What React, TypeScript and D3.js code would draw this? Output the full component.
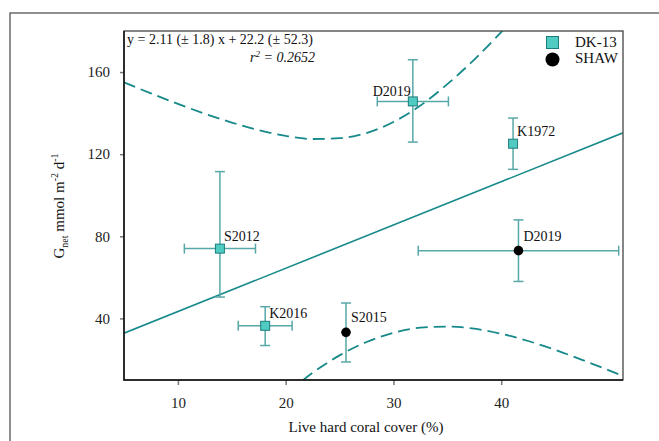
import React, { useEffect, useRef } from 'react';
import * as d3 from 'd3';

// DK-13 sites
const dkLabels = ['S2012', 'K2016', 'D2019', 'K1972'];
const dkCover = [13.9, 18.1, 31.8, 41.1];
const dkCoverErr = [3.3, 2.5, 3.3, 0];
const dkGnet = [74, 36.4, 145.7, 125.1];
const dkGnetErrHi = [37.5, 9.3, 20.3, 12.5];
const dkGnetErrLo = [23.6, 9.6, 19.8, 12.5];

// SHAW sites
const shawLabels = ['D2019', 'S2015'];
const shawCover = [41.6, 25.6];
const shawCoverErr = [9.3, 0];
const shawGnet = [73, 33.2];
const shawGnetErrHi = [15, 14.3];
const shawGnetErrLo = [15, 14.4];

// regression line and 95% band
const fitCover = [5, 51.3];
const fitGnet = [32.8, 130.4];
const bandCover = [5, 7.5, 10, 12.5, 15, 17.5, 20, 22.5, 25, 27.5, 30, 32.5, 35, 37.5, 40, 42.5, 45, 47.5, 50, 51.3];
const bandUpper = [155, 149.6, 144.5, 139.7, 135.4, 131.7, 128.9, 127.4, 127.8, 130.3, 135.7, 143.7, 154.1, 166.1, 179.5, 193.8, 208.7, 224, 239.7, 247.9];
const bandLower = [-88, -70, -52, -36, -21, -8, 3, 13.5, 22, 28.5, 33, 35.5, 36, 35, 32.5, 29, 24.7, 19.8, 14.7, 11.9];

const xTicks = [10, 20, 30, 40];
const yTicks = [40, 80, 120, 160];

const TEAL = '#17898a';
const BAR = '#58a8a8';
const FONT = '"Liberation Serif", "Times New Roman", serif';

const App = () => {
  const chartRef = useRef<SVGSVGElement>(null);

  useEffect(() => {
    const root = d3.select(chartRef.current);
    root.selectAll('*').remove();

    const margin = { top: 31, right: 36, bottom: 61, left: 124 };
    const width = 659 - margin.left - margin.right;
    const height = 441 - margin.top - margin.bottom;

    // outer frame
    root
      .append('rect')
      .attr('x', 10)
      .attr('y', 13)
      .attr('width', 700)
      .attr('height', 500)
      .attr('fill', 'none')
      .attr('stroke', '#555')
      .attr('stroke-width', 1.3);

    const svg = root.append('g').attr('transform', `translate(${margin.left},${margin.top})`);

    const x = d3.scaleLinear().domain([5, 51.3]).range([0, width]);
    const y = d3.scaleLinear().domain([10, 180]).range([height, 0]);

    svg
      .append('clipPath')
      .attr('id', 'plotClip')
      .append('rect')
      .attr('width', width)
      .attr('height', height);

    // axes
    const xAxis = svg
      .append('g')
      .attr('transform', `translate(0,${height})`)
      .call(d3.axisBottom(x).tickValues(xTicks).tickSize(5).tickPadding(12).tickSizeOuter(0));
    const yAxis = svg
      .append('g')
      .call(d3.axisLeft(y).tickValues(yTicks).tickSize(4).tickPadding(10).tickSizeOuter(0));
    [xAxis, yAxis].forEach((a) => {
      a.select('.domain').remove();
      a.selectAll('line').attr('stroke', '#777').attr('stroke-width', 1.5);
      a.selectAll('text').attr('font-family', FONT).attr('font-size', 15).attr('fill', '#222');
    });

    const plot = svg.append('g').attr('clip-path', 'url(#plotClip)');

    // confidence band
    const bandLine = d3
      .line<number>()
      .x((d, i) => x(bandCover[i]))
      .y((d) => y(d))
      .curve(d3.curveMonotoneX);
    [bandUpper, bandLower].forEach((b) => {
      plot
        .append('path')
        .attr('d', bandLine(b))
        .attr('fill', 'none')
        .attr('stroke', TEAL)
        .attr('stroke-width', 1.8)
        .attr('stroke-dasharray', '12,6');
    });

    // regression line
    plot
      .append('line')
      .attr('x1', x(fitCover[0]))
      .attr('y1', y(fitGnet[0]))
      .attr('x2', x(fitCover[1]))
      .attr('y2', y(fitGnet[1]))
      .attr('stroke', TEAL)
      .attr('stroke-width', 1.6);

    const cap = 5;
    const drawErrors = (cover, coverErr, gnet, hi, lo) => {
      cover.forEach((cx, i) => {
        const g = plot.append('g').attr('stroke', BAR).attr('stroke-width', 1.5);
        const px = x(cx);
        const py = y(gnet[i]);
        if (coverErr[i] > 0) {
          const x0 = x(cx - coverErr[i]);
          const x1 = x(cx + coverErr[i]);
          g.append('line').attr('x1', x0).attr('x2', x1).attr('y1', py).attr('y2', py);
          g.append('line').attr('x1', x0).attr('x2', x0).attr('y1', py - cap).attr('y2', py + cap);
          g.append('line').attr('x1', x1).attr('x2', x1).attr('y1', py - cap).attr('y2', py + cap);
        }
        const y0 = y(gnet[i] + hi[i]);
        const y1 = y(gnet[i] - lo[i]);
        g.append('line').attr('x1', px).attr('x2', px).attr('y1', y0).attr('y2', y1);
        g.append('line').attr('x1', px - cap).attr('x2', px + cap).attr('y1', y0).attr('y2', y0);
        g.append('line').attr('x1', px - cap).attr('x2', px + cap).attr('y1', y1).attr('y2', y1);
      });
    };
    drawErrors(dkCover, dkCoverErr, dkGnet, dkGnetErrHi, dkGnetErrLo);
    drawErrors(shawCover, shawCoverErr, shawGnet, shawGnetErrHi, shawGnetErrLo);

    // markers
    const sq = 9;
    dkCover.forEach((cx, i) => {
      svg
        .append('rect')
        .attr('x', x(cx) - sq / 2)
        .attr('y', y(dkGnet[i]) - sq / 2)
        .attr('width', sq)
        .attr('height', sq)
        .attr('fill', '#4fcbc2')
        .attr('stroke', '#1d7d7d')
        .attr('stroke-width', 1);
    });
    shawCover.forEach((cx, i) => {
      svg.append('circle').attr('cx', x(cx)).attr('cy', y(shawGnet[i])).attr('r', 4.8).attr('fill', '#000');
    });

    // point labels
    const label = (txt, cx, cy, dx, dy, anchor = 'start') =>
      svg
        .append('text')
        .attr('x', x(cx) + dx)
        .attr('y', y(cy) + dy)
        .attr('text-anchor', anchor)
        .attr('font-family', FONT)
        .attr('font-size', 14)
        .attr('fill', '#111')
        .text(txt);
    dkLabels.forEach((t, i) => {
      if (t === 'D2019') label(t, dkCover[i], dkGnet[i], -2, -5, 'end');
      else label(t, dkCover[i], dkGnet[i], 4, -8);
    });
    shawLabels.forEach((t, i) => label(t, shawCover[i], shawGnet[i], 5, -10));

    // plot frame
    svg
      .append('rect')
      .attr('width', width)
      .attr('height', height)
      .attr('fill', 'none')
      .attr('stroke', '#444')
      .attr('stroke-width', 1.3);
    svg
      .append('path')
      .attr('d', `M0,0V${height}H${width}`)
      .attr('fill', 'none')
      .attr('stroke', '#111')
      .attr('stroke-width', 1.5);

    // equation
    svg
      .append('text')
      .attr('x', 3)
      .attr('y', 13)
      .attr('font-family', FONT)
      .attr('font-size', 14)
      .attr('fill', '#111')
      .text('y = 2.11 (± 1.8) x + 22.2 (± 52.3)');
    const r2 = svg
      .append('text')
      .attr('x', 191)
      .attr('y', 31)
      .attr('text-anchor', 'end')
      .attr('font-family', FONT)
      .attr('font-size', 14)
      .attr('font-style', 'italic')
      .attr('fill', '#111');
    r2.append('tspan').text('r');
    r2.append('tspan').attr('dy', -5).attr('font-size', 9).text('2');
    r2.append('tspan').attr('dy', 5).text(' = 0.2652');

    // legend
    svg
      .append('rect')
      .attr('x', 422.5)
      .attr('y', 5.5)
      .attr('width', 12)
      .attr('height', 12)
      .attr('fill', '#4fcbc2')
      .attr('stroke', '#1d7d7d');
    svg.append('circle').attr('cx', 428.5).attr('cy', 28.5).attr('r', 7).attr('fill', '#000');
    [['DK-13', 16], ['SHAW', 32]].forEach(([t, ty]) => {
      svg
        .append('text')
        .attr('x', 451)
        .attr('y', ty)
        .attr('font-family', FONT)
        .attr('font-size', 15)
        .attr('fill', '#111')
        .text(t);
    });

    // axis titles
    root
      .append('text')
      .attr('x', 366)
      .attr('y', 432)
      .attr('text-anchor', 'middle')
      .attr('font-family', FONT)
      .attr('font-size', 15)
      .attr('fill', '#111')
      .text('Live hard coral cover (%)');

    const yt = root
      .append('text')
      .attr('transform', 'translate(64,206) rotate(-90)')
      .attr('text-anchor', 'middle')
      .attr('font-family', FONT)
      .attr('font-size', 15)
      .attr('fill', '#111');
    yt.append('tspan').text('G');
    yt.append('tspan').attr('dy', 4).attr('font-size', 10).text('net');
    yt.append('tspan').attr('dy', -4).text(' mmol m');
    yt.append('tspan').attr('dy', -6).attr('font-size', 10).text('-2');
    yt.append('tspan').attr('dy', 6).text(' d');
    yt.append('tspan').attr('dy', -6).attr('font-size', 10).text('-1');

    return () => {
      root.selectAll('*').remove();
    };
  }, []);

  return (
    <svg
      ref={chartRef}
      width={659}
      height={441}
      style={{ position: 'absolute', left: 0, top: 0, background: '#fff' }}
    />
  );
};

export default App;
